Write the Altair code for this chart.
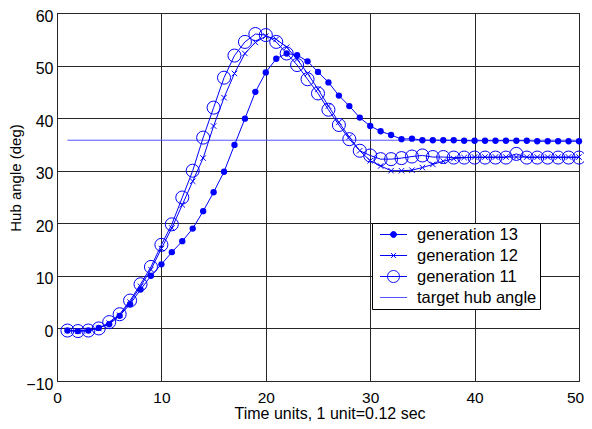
import altair as alt
import pandas as pd

# ---------------- data ----------------
x_vals = list(range(1, 51))

gen13 = [-0.4, -0.5, -0.4, 0.1, 0.8, 2.4, 4.6, 7.4, 10.0, 12.2,
         14.5, 16.6, 19.0, 22.3, 25.9, 29.8, 34.9, 39.9, 45.0, 48.7,
         51.3, 52.3, 52.0, 50.8, 48.8, 46.8, 44.3, 42.3, 40.1, 38.5,
         37.5, 36.8, 36.0, 36.1, 35.8, 35.8, 35.8, 35.8, 35.7, 35.7,
         35.7, 35.7, 35.7, 35.7, 35.7, 35.6, 35.6, 35.6, 35.6, 35.6]

gen12 = [-0.4, -0.5, -0.4, 0.0, 1.0, 2.5, 5.0, 8.0, 11.2, 15.2,
         19.1, 23.5, 28.0, 32.4, 38.5, 43.9, 48.5, 52.3, 54.4, 55.6,
         55.0, 53.5, 51.2, 48.5, 45.5, 42.3, 39.2, 36.4, 33.8, 31.9,
         30.9, 30.0, 30.0, 30.1, 30.6, 31.2, 31.8, 32.3, 32.5, 32.6,
         32.6, 32.6, 32.6, 32.6, 32.6, 32.6, 32.6, 32.6, 32.6, 32.6]

gen11 = [-0.4, -0.5, -0.4, 0.0, 1.2, 2.7, 5.3, 8.4, 11.7, 15.9,
         19.8, 24.9, 30.0, 36.3, 42.0, 47.7, 51.9, 54.5, 56.0, 55.8,
         54.5, 52.3, 50.1, 47.4, 44.7, 41.6, 38.7, 36.0, 33.8, 32.9,
         32.2, 32.2, 32.4, 32.7, 32.9, 32.6, 32.6, 32.5, 32.5, 32.5,
         32.5, 32.5, 32.5, 33.2, 32.5, 32.5, 32.5, 32.5, 32.5, 32.5]

target_x = [1, 50]
target_y = [35.8, 35.8]

series_names = ["generation 13", "generation 12", "generation 11", "target hub angle"]
x_ticks = [0, 10, 20, 30, 40, 50]
y_ticks = [-10, 0, 10, 20, 30, 40, 50, 60]

rows = []
for name, ys in [("generation 13", gen13), ("generation 12", gen12), ("generation 11", gen11)]:
    for xv, yv in zip(x_vals, ys):
        rows.append({"series": name, "x": xv, "y": yv})
df = pd.DataFrame(rows)
target_df = pd.DataFrame({"series": "target hub angle", "x": target_x, "y": target_y})
legend_df = pd.DataFrame({"series": series_names})

FONT = "Liberation Sans, Arial, sans-serif"
BLUE = "#0000ff"
TBLUE = "#5555ff"

x_enc = alt.X("x:Q", scale=alt.Scale(domain=[0, 50], nice=False, zero=False),
              axis=alt.Axis(values=x_ticks, title="Time units, 1 unit=0.12 sec",
                            grid=True, ticks=False, domain=False, labelFlush=False,
                            labelOverlap=False, labelPadding=9, labelFontSize=15.5,
                            labelOffset={"condition": {"test": "datum.value == 50", "value": -4},
                                         "value": 0},
                            titleX=272.5, titleY=37.5, titleBaseline="alphabetic",
                            titleAlign="center"))
y_enc = alt.Y("y:Q", scale=alt.Scale(domain=[-10, 60], nice=False, zero=False),
              axis=alt.Axis(values=y_ticks, title="Hub angle (deg)",
                            grid=True, ticks=False, domain=False, labelFlush=False,
                            labelOverlap=False, labelPadding=4, labelOffset=3,
                            titleFontSize=15, titleX=-37, titleY=164.5,
                            titleBaseline="alphabetic", titleAlign="center"))

target_layer = alt.Chart(target_df).mark_line(color=TBLUE, strokeWidth=1).encode(x=x_enc, y=y_enc)

lines = alt.Chart(df).mark_line(color=BLUE, strokeWidth=1).encode(
    x=x_enc, y=y_enc, detail="series:N")

pts13 = alt.Chart(df).transform_filter(alt.datum.series == "generation 13").mark_point(
    shape="circle", filled=True, size=40, color=BLUE, opacity=1).encode(x=x_enc, y=y_enc)

pts12 = alt.Chart(df).transform_filter(alt.datum.series == "generation 12").mark_point(
    shape="M-1,-1L1,1M-1,1L1,-1", filled=False, size=30, color=BLUE, strokeWidth=1,
    opacity=1).encode(x=x_enc, y=y_enc)

pts11 = alt.Chart(df).transform_filter(alt.datum.series == "generation 11").mark_point(
    shape="circle", filled=False, size=170, color=BLUE, strokeWidth=1, opacity=1).encode(
    x=x_enc, y=y_enc)

# legend symbols: line + marker
L = 1.6875
paths = [
    f"M-{L},0L{L},0M-0.375,0A0.375,0.375,0,1,0,0.375,0A0.375,0.375,0,1,0,-0.375,0Z",
    f"M-{L},0L{L},0M-0.3,-0.3L0.3,0.3M-0.3,0.3L0.3,-0.3",
    f"M-{L},0L{L},0M-0.75,0A0.75,0.75,0,1,0,0.75,0A0.75,0.75,0,1,0,-0.75,0Z",
    f"M-{L},0L{L},0",
]

leg = alt.Legend(title=None, orient="none", legendX=315, legendY=210, padding=3,
                 rowPadding=4, symbolOffset=10, labelOffset=15, symbolSize=256,
                 symbolStrokeWidth=1, labelFont=FONT, labelFontSize=16.5,
                 labelColor="black", strokeColor="black", fillColor="white",
                 labelLimit=300)

legend_layer = alt.Chart(legend_df).transform_filter("false").mark_point(
    size=256, strokeWidth=1, opacity=1).encode(
    shape=alt.Shape("series:N", scale=alt.Scale(domain=series_names, range=paths), legend=leg),
    fill=alt.Fill("series:N", scale=alt.Scale(domain=series_names,
                                              range=[BLUE, BLUE, "transparent", "transparent"]),
                  legend=leg),
    stroke=alt.Stroke("series:N", scale=alt.Scale(domain=series_names,
                                                  range=[BLUE, BLUE, BLUE, TBLUE]),
                      legend=leg),
)

chart = alt.layer(target_layer, lines, pts13, pts12, pts11, legend_layer).properties(
    width=522, height=368,
    autosize=alt.AutoSizeParams(type="none"),
    padding={"left": 49, "top": 5, "right": 5, "bottom": 40},
    background="white",
).configure_view(stroke="black", strokeWidth=1).configure_axis(
    gridColor="#262626", gridOpacity=1, gridWidth=1,
    labelFont=FONT, labelFontSize=16, labelColor="black",
    titleFont=FONT, titleFontSize=16, titleFontWeight="normal", titleColor="black",
)

chart.save("out.html", embed_options={"renderer": "svg", "actions": False})
